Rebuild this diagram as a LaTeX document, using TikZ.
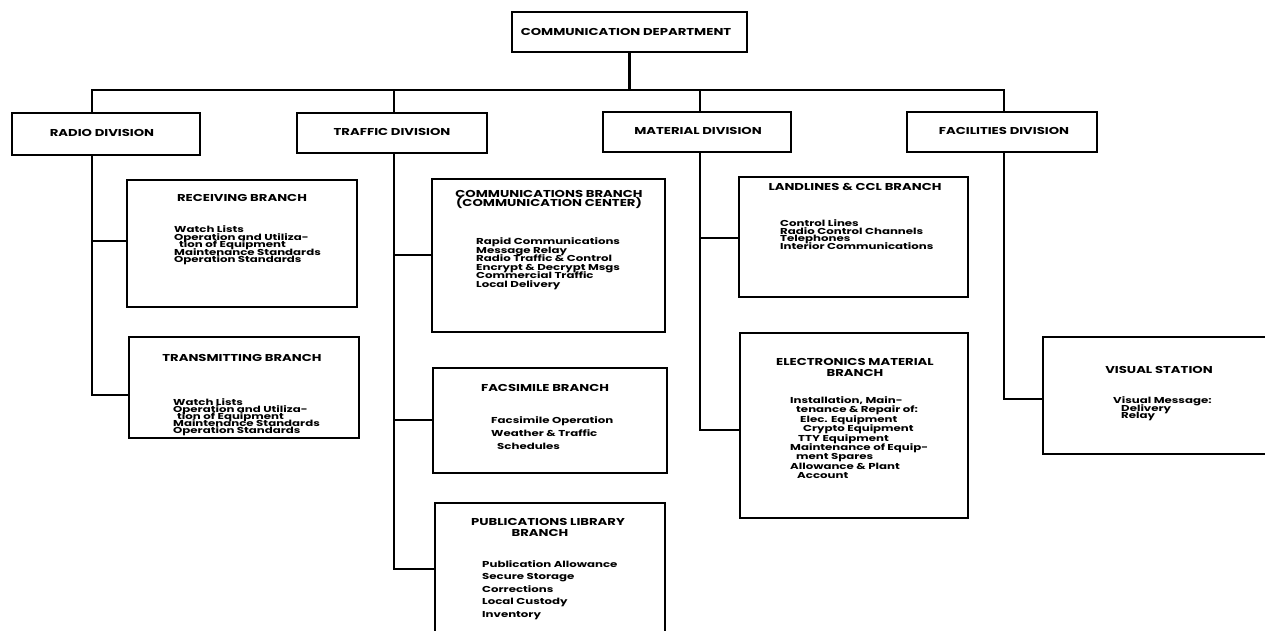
\documentclass[tikz,border=0pt]{standalone}
\usepackage{fontspec}
\setmainfont{Poppins}
\newfontfamily\hdrfont{Poppins}[FakeStretch=1.32]
\newfontfamily\bodyfont{Poppins}[FakeStretch=1.37]
\newcommand\tightlines{\setlength{\lineskiplimit}{-20pt}}
\begin{document}
\begin{tikzpicture}[x=1pt,y=-1pt,
  box/.style={draw, line width=1.3pt, inner sep=0pt, outer sep=0pt, fill=white},
  shadeline/.style={line width=2.8pt},
  conn/.style={line width=2.6pt},
  hdr/.style={font=\hdrfont\fontsize{10}{#1}\selectfont\bfseries\tightlines, inner sep=0pt, align=center},
  hdr/.default=10.5,
  body/.style={font=\bodyfont\fontsize{8.6}{#1}\selectfont\bfseries\tightlines, inner sep=0pt, align=left, anchor=north west},
  body/.default=7.6]
\useasboundingbox (0,0) rectangle (1265,631);
\clip (0,0) rectangle (1265,631);

% ---- boxes ----
\node[box, minimum width=235pt, minimum height=40pt] (dept) at (629.5,32) {};
\node[box, minimum width=188pt, minimum height=42pt] (radio) at (106,134) {};
\node[box, minimum width=190pt, minimum height=40pt] (traffic) at (392,133) {};
\node[box, minimum width=188pt, minimum height=40pt] (material) at (697,132) {};
\node[box, minimum width=190pt, minimum height=40pt] (facilities) at (1002,132) {};
\node[box, minimum width=230pt, minimum height=127pt] (receiving) at (242,243.5) {};
\node[box, minimum width=230pt, minimum height=101pt] (transmitting) at (244,387.5) {};
\node[box, minimum width=233pt, minimum height=153pt] (comms) at (548.5,255.5) {};
\node[box, minimum width=234pt, minimum height=105pt] (facsimile) at (550,420.5) {};
\node[box, minimum width=230pt, minimum height=147pt] (publications) at (550,576.5) {};
\node[box, minimum width=229pt, minimum height=120pt] (landlines) at (853.5,237) {};
\node[box, minimum width=228pt, minimum height=185pt] (electronics) at (854,425.5) {};
\node[box, minimum width=247pt, minimum height=117pt] (visual) at (1166.5,395.5) {};

\foreach \b in {dept,radio,traffic,material,facilities,receiving,transmitting,comms,facsimile,publications,landlines,electronics,visual}
  \draw[shadeline] ([xshift=12pt]\b.south west) -- (\b.south east) -- ([yshift=-4pt]\b.north east);

% ---- connector join points ----
\coordinate (bus) at (0,90);
\coordinate (rx) at (92,0);
\coordinate (tx) at (394,0);
\coordinate (mx) at (700,0);
\coordinate (fx) at (1004,0);
\coordinate (j1) at (0,241);
\coordinate (j2) at (0,395);
\coordinate (j3) at (0,255);
\coordinate (j4) at (0,420);
\coordinate (j5) at (0,569);
\coordinate (j6) at (0,238);
\coordinate (j7) at (0,430);
\coordinate (j8) at (0,399);

% ---- connectors ----
\draw[conn] (dept.south) -- (dept.south |- bus);
\draw[conn] (rx |- radio.north) -- (rx |- bus) -- (fx |- bus) -- (fx |- facilities.north);
\draw[conn] (tx |- bus) -- (tx |- traffic.north);
\draw[conn] (mx |- bus) -- (mx |- material.north);

\draw[conn] (rx |- radio.south) |- (transmitting.west |- j2);
\draw[conn] (rx |- j1) -- (receiving.west |- j1);
\draw[conn] (tx |- traffic.south) |- (publications.west |- j5);
\draw[conn] (tx |- j3) -- (comms.west |- j3);
\draw[conn] (tx |- j4) -- (facsimile.west |- j4);
\draw[conn] (mx |- material.south) |- (electronics.west |- j7);
\draw[conn] (mx |- j6) -- (landlines.west |- j6);
\draw[conn] (fx |- facilities.south) |- (visual.west |- j8);

% ---- headers ----
\node[hdr] (tdept) at (626,32) {COMMUNICATION DEPARTMENT};
\node[hdr] (tradio) at (102,133) {RADIO DIVISION};
\node[hdr] (ttraffic) at (392,132) {TRAFFIC DIVISION};
\node[hdr] (tmaterial) at (698,131) {MATERIAL DIVISION};
\node[hdr] (tfacilities) at (1004,131) {FACILITIES DIVISION};
\node[hdr] (treceiving) at (242,198) {RECEIVING BRANCH};
\node[hdr] (ttransmitting) at (242,358) {TRANSMITTING BRANCH};
\node[hdr=9] (tcomms) at (549,199.5) {COMMUNICATIONS BRANCH\\(COMMUNICATION CENTER)};
\node[hdr] (tfacsimile) at (545,388) {FACSIMILE BRANCH};
\node[hdr=11] (tpublications) at (548,527.5) {PUBLICATIONS LIBRARY\\\hspace*{-16pt}BRANCH};
\node[hdr] (tlandlines) at (855,187) {LANDLINES \& CCL BRANCH};
\node[hdr=11] (telectronics) at (855,367.5) {ELECTRONICS MATERIAL\\BRANCH};
\node[hdr] (tvisual) at (1159,370) {VISUAL STATION};

% ---- bodies ----
\node[body=7.5] (breceiving) at (174,225.5) {Watch Lists\\Operation and Utiliza-\\\hspace*{5pt}tion of Equipment\\Maintenance Standards\\Operation Standards};
\node[body=7.2] (btransmitting) at (173,398) {Watch Lists\\Operation and Utiliza-\\\hspace*{4pt}tion of Equipment\\Maintenance Standards\\Operation Standards};
\node[body=8.6] (bcomms) at (476,237.5) {Rapid Communications\\Message Relay\\Radio Traffic \& Control\\Encrypt \& Decrypt Msgs\\Commercial Traffic\\Local Delivery};
\node[body=13] (bfacsimile) at (491,416.5) {Facsimile Operation\\Weather \& Traffic\\\hspace*{6pt}Schedules};
\node[body=12.6] (bpublications) at (482,560) {Publication Allowance\\Secure Storage\\Corrections\\Local Custody\\Inventory};
\node[body=7.7] (blandlines) at (780,219.5) {Control Lines\\Radio Control Channels\\Telephones\\Interior Communications};
\node[body=9.4] (belectronics) at (790,396.5) {Installation, Main-\\\hspace*{6pt}tenance \& Repair of:\\\hspace*{10pt}Elec. Equipment\\\hspace*{13pt}Crypto Equipment\\\hspace*{8pt}TTY Equipment\\Maintenance of Equip-\\\hspace*{6pt}ment Spares\\Allowance \& Plant\\\hspace*{7pt}Account};
\node[body=7.5] (bvisual) at (1113,396.5) {Visual Message:\\\hspace*{8pt}Delivery\\\hspace*{8pt}Relay};
\end{tikzpicture}
\end{document}
